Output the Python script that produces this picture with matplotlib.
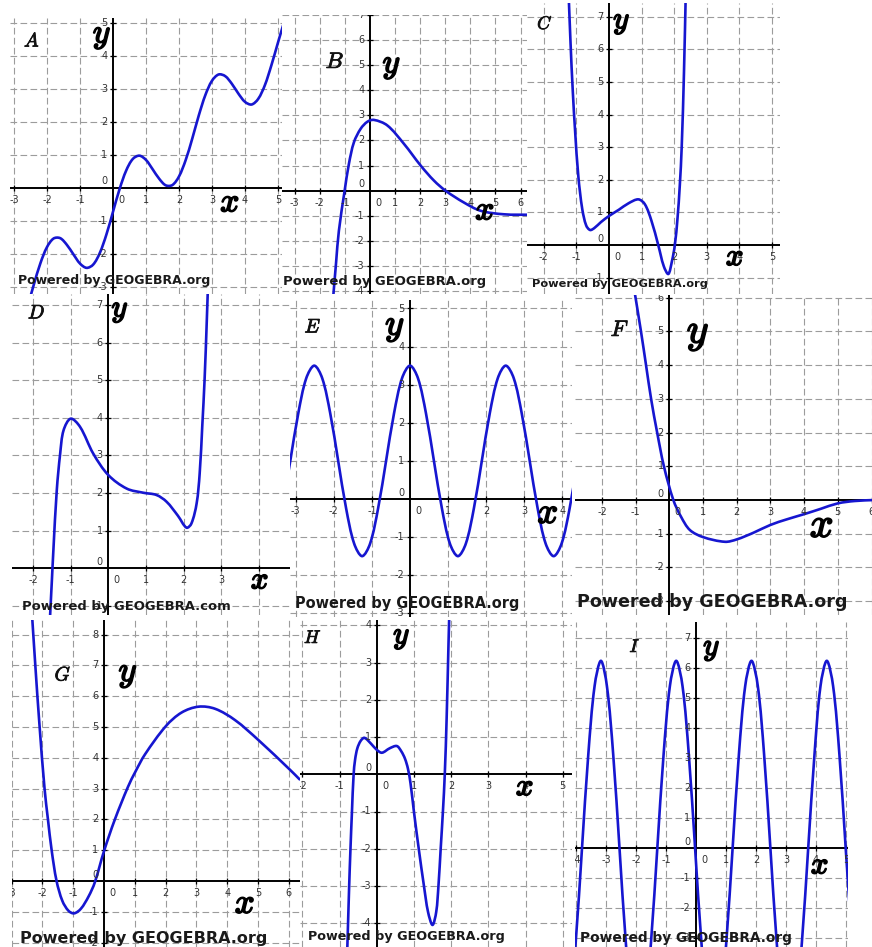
import numpy as np
import matplotlib
matplotlib.use('Agg')
import matplotlib.pyplot as plt
from matplotlib.path import Path
from matplotlib.patches import PathPatch
import matplotlib.patheffects as pe

plt.rcParams['mathtext.fontset'] = 'cm'

# ---------------- data ----------------
A_x = [-2.6, -2.4, -2.2, -2.0, -1.8, -1.6, -1.4, -1.2, -1.0, -0.8, -0.6, -0.4, -0.2, 0.0,
       0.2, 0.4, 0.6, 0.8, 1.0, 1.2, 1.4, 1.6, 1.8, 2.0, 2.2, 2.4, 2.6, 2.8, 3.0, 3.2,
       3.4, 3.6, 3.8, 4.0, 4.2, 4.4, 4.6, 4.8, 5.0, 5.2]
A_y = [-3.64, -2.93, -2.28, -1.79, -1.53, -1.52, -1.72, -2.01, -2.29, -2.42, -2.32, -1.97, -1.41, -0.72,
       -0.03, 0.53, 0.88, 0.98, 0.85, 0.57, 0.28, 0.08, 0.09, 0.35, 0.84, 1.49, 2.20, 2.82, 3.25, 3.44,
       3.39, 3.16, 2.86, 2.61, 2.53, 2.70, 3.11, 3.72, 4.41, 5.08]

B_x = [-1.52, -1.46, -1.35, -1.24, -1.01, -0.84, -0.64, -0.37, -0.1, 0.16, 0.69, 1.35, 2.02,
       2.55, 3.01, 3.74, 4.41, 5.34, 6.4]
B_y = [-4.9, -4.16, -2.85, -1.6, 0.0, 1.07, 1.93, 2.47, 2.75, 2.82, 2.6, 1.87, 1.0,
       0.4, 0.0, -0.47, -0.8, -0.94, -0.96]

C_x = [-1.25, -1.18, -1.11, -1.04, -0.94, -0.82, -0.70, -0.58, -0.45, -0.25, 0.0, 0.3, 0.6, 0.9,
       1.1, 1.3, 1.51, 1.68, 1.82, 1.93, 2.02, 2.10, 2.17, 2.23, 2.30, 2.36]
C_y = [8.0, 6.2, 4.7, 3.5, 2.1, 1.1, 0.6, 0.46, 0.52, 0.7, 0.89, 1.08, 1.28, 1.40,
       1.25, 0.75, 0.0, -0.65, -0.89, -0.5, 0.0, 0.8, 1.8, 3.0, 5.3, 8.0]

D_x = [-1.55, -1.50, -1.46, -1.37, -1.28, -1.19, -1.0, -0.75, -0.40, 0.0, 0.49, 0.93, 1.28,
       1.55, 1.85, 2.08, 2.21, 2.35, 2.43, 2.50, 2.56, 2.62, 2.66]
D_y = [-1.3, -0.31, 0.49, 2.08, 3.05, 3.67, 3.98, 3.76, 3.05, 2.48, 2.12, 2.01, 1.95,
       1.77, 1.4, 1.08, 1.19, 1.73, 2.52, 3.8, 5.0, 6.6, 7.8]

E_x = [-3.351, -3.142, -2.932, -2.723, -2.513, -2.304, -2.094, -1.885, -1.676, -1.466,
       -1.257, -1.047, -0.838, -0.628, -0.419, -0.209, 0.0, 0.209, 0.419, 0.628, 0.838,
       1.047, 1.257, 1.466, 1.676, 1.885, 2.094, 2.304, 2.513, 2.723, 2.932, 3.142,
       3.351, 3.560, 3.770, 3.979, 4.189, 4.398]
E_y = [-0.25, 1.0, 2.25, 3.17, 3.5, 3.17, 2.25, 1.0, -0.25, -1.17,
       -1.5, -1.17, -0.25, 1.0, 2.25, 3.17, 3.5, 3.17, 2.25, 1.0, -0.25,
       -1.17, -1.5, -1.17, -0.25, 1.0, 2.25, 3.17, 3.5, 3.17, 2.25, 1.0,
       -0.25, -1.17, -1.5, -1.17, -0.25, 1.0]

F_x = [-1.05, -0.84, -0.69, -0.54, -0.36, -0.16, 0.12, 0.35, 0.61, 1.0, 1.65, 2.0, 2.5,
       3.0, 3.5, 4.0, 4.5, 5.0, 5.5, 6.1]
F_y = [6.3, 5.0, 4.0, 3.0, 2.0, 1.0, 0.0, -0.5, -0.89, -1.1, -1.24, -1.17, -0.97,
       -0.74, -0.57, -0.42, -0.26, -0.1, -0.03, 0.0]

G_x = [-2.36, -2.23, -2.09, -1.93, -1.82, -1.70, -1.54, -1.35, -1.15, -0.97, -0.75, -0.5,
       -0.30, 0.0, 0.35, 0.78, 1.02, 1.33, 2.01, 2.52, 3.07, 3.61, 4.26, 5.02, 6.05, 6.35]
G_y = [9.0, 7.0, 5.0, 3.0, 2.0, 1.0, 0.0, -0.65, -0.97, -1.05, -0.9, -0.5,
       -0.05, 0.97, 1.99, 3.06, 3.55, 4.11, 5.03, 5.47, 5.66, 5.59, 5.22, 4.57, 3.60, 3.3]

H_x = [-0.80, -0.77, -0.74, -0.705, -0.665, -0.62, -0.58, -0.52, -0.43, -0.33, -0.15, 0.0,
       0.14, 0.35, 0.54, 0.66, 0.76, 0.84, 0.91, 1.0, 1.13, 1.27, 1.38, 1.50, 1.60, 1.66,
       1.72, 1.78, 1.83, 1.88, 1.93, 1.97]
H_y = [-5.0, -4.0, -3.0, -2.0, -1.0, 0.0, 0.4, 0.7, 0.9, 0.98, 0.82, 0.66,
       0.58, 0.70, 0.76, 0.62, 0.42, 0.15, -0.25, -1.0, -2.0, -3.0, -3.7, -4.05, -3.7, -3.0,
       -2.0, -1.0, 0.0, 1.5, 3.5, 5.0]

I_x = [-4.22, -4.01, -3.80, -3.59, -3.38, -3.17, -2.97, -2.76, -2.55, -2.34, -2.13, -1.92,
       -1.71, -1.50, -1.29, -1.08, -0.87, -0.66, -0.45, -0.24, -0.03, 0.18, 0.39, 0.59,
       0.80, 1.01, 1.22, 1.43, 1.64, 1.85, 2.06, 2.27, 2.48, 2.69, 2.90, 3.11, 3.32,
       3.53, 3.74, 3.95, 4.15, 4.36, 4.57, 4.78, 4.99, 5.20]
I_y = [-5.41, -3.13, 0.0, 3.13, 5.41, 6.25, 5.41, 3.13, 0.0, -3.13, -5.41, -6.25,
       -5.41, -3.13, 0.0, 3.13, 5.41, 6.25, 5.41, 3.13, 0.0, -3.13, -5.41, -6.25,
       -5.41, -3.13, 0.0, 3.13, 5.41, 6.25, 5.41, 3.13, 0.0, -3.13, -5.41, -6.25, -5.41,
       -3.13, 0.0, 3.13, 5.41, 6.25, 5.41, 3.13, 0.0, -3.13]

letters = ['A', 'B', 'C', 'D', 'E', 'F', 'G', 'H', 'I']
sites = ['org', 'org', 'org', 'com', 'org', 'org', 'org', 'org', 'org']
curves_x = [A_x, B_x, C_x, D_x, E_x, F_x, G_x, H_x, I_x]
curves_y = [A_y, B_y, C_y, D_y, E_y, F_y, G_y, H_y, I_y]

# ---------------- layout (pixels) ----------------
W, H = 872, 947
LAYOUT = [
    dict(box=(10, 18, 282, 294), org=(113, 188), u=33.0, let=(32, 41), yl=(102, 35), xl=(230, 202),
         pw=(18, 280, 193), big=24, ls=14),
    dict(box=(282, 15, 527, 294), org=(370, 190.7), u=25.1, let=(335, 62), yl=(391.7, 65), xl=(485, 210),
         pw=(283, 282, 202), big=24, ls=16),
    dict(box=(527, 3, 780, 294), org=(609, 245), u=32.6, let=(545, 24), yl=(621.7, 21.7), xl=(735, 256.7),
         pw=(532, 284, 175), big=22, ls=13),
    dict(box=(12, 294, 290, 615), org=(108.3, 568.3), u=37.6, let=(36.7, 313), yl=(120, 310), xl=(260, 580),
         pw=(22, 606.7, 208), big=22, ls=14),
    dict(box=(290, 300, 572, 617), org=(410, 499), u=38.1, let=(313, 327), yl=(395, 326.7), xl=(548, 513),
         pw=(295, 603, 223), big=26, ls=14),
    dict(box=(575, 295, 872, 615), org=(669.3, 500), u=33.7, let=(620, 330), yl=(698, 331.7), xl=(821.7, 525),
         pw=(577, 601.7, 270), big=30, ls=16),
    dict(box=(12, 620, 300, 947), org=(104, 881), u=30.8, let=(63, 675), yl=(128, 673), xl=(245, 903),
         pw=(20, 938, 247), big=25, ls=14),
    dict(box=(300, 620, 572, 947), org=(376.7, 774.3), u=37.2, let=(313, 638), yl=(401.7, 636.7), xl=(525, 786.7),
         pw=(308, 936.7, 197), big=22, ls=13),
    dict(box=(575, 622, 848, 947), org=(696, 848.3), u=30.0, let=(635, 647), yl=(711.7, 648.3), xl=(820, 865),
         pw=(580, 937.7, 212), big=22, ls=13),
]

BLUE = '#1616d0'
GRID = '#9c9c9c'
TICKC = '#333333'


def smooth_path(x, y):
    p = np.column_stack([x, y]).astype(float)
    d = np.hypot(*np.diff(p, axis=0).T)
    t = np.concatenate([[0.0], np.cumsum(d)])
    n = len(p)
    m = np.zeros_like(p)
    m[0] = (p[1] - p[0]) / (t[1] - t[0])
    m[-1] = (p[-1] - p[-2]) / (t[-1] - t[-2])
    for i in range(1, n - 1):
        m[i] = (p[i + 1] - p[i - 1]) / (t[i + 1] - t[i - 1])
    verts = [p[0]]
    codes = [Path.MOVETO]
    for i in range(n - 1):
        h = t[i + 1] - t[i]
        verts += [p[i] + m[i] * h / 3, p[i + 1] - m[i + 1] * h / 3, p[i + 1]]
        codes += [Path.CURVE4] * 3
    return Path(verts, codes)


def fp(px, py):
    return px / W, 1 - py / H


fig = plt.figure(figsize=(W / 100, H / 100), dpi=100)
fig.patch.set_facecolor('white')

powered = []
for L, name, site, cx, cy in zip(LAYOUT, letters, sites, curves_x, curves_y):
    l, t, r, b = L['box']
    ox, oy = L['org']
    u = L['u']
    ax = fig.add_axes([l / W, 1 - b / H, (r - l) / W, (b - t) / H])
    ax.set_xlim((l - ox) / u, (r - ox) / u)
    ax.set_ylim((oy - b) / u, (oy - t) / u)
    ax.axis('off')
    x0, x1 = ax.get_xlim()
    y0, y1 = ax.get_ylim()
    kx = list(range(int(np.ceil(x0 - 0.3)), int(np.floor(x1 + 0.3)) + 1))
    ky = list(range(int(np.ceil(y0 - 0.3)), int(np.floor(y1 + 0.3)) + 1))
    for k in kx:
        if k != 0:
            ax.axvline(k, color=GRID, lw=0.8, ls=(0, (6, 3)), zorder=1)
    for k in ky:
        if k != 0:
            ax.axhline(k, color=GRID, lw=0.8, ls=(0, (6, 3)), zorder=1)
    ax.axhline(0, color='black', lw=1.4, zorder=2)
    ax.axvline(0, color='black', lw=1.4, zorder=2)
    nx = [k for k in kx if k != 0]
    ny = [k for k in ky if k != 0]
    ax.plot(nx, [0] * len(nx), ls='none', marker='|', ms=4, mew=0.9, color='black', zorder=2)
    ax.plot([0] * len(ny), ny, ls='none', marker='_', ms=4, mew=0.9, color='black', zorder=2)
    dy = 12.0 / u
    dx = 5.5 / u
    for k in nx:
        ax.text(k, -dy, str(k), ha='center', va='center', fontsize=7, color=TICKC, clip_on=True, zorder=4)
    for k in ny:
        ax.text(-dx, k, str(k), ha='right', va='center', fontsize=7, color=TICKC, clip_on=True, zorder=4)
    ax.text(8.5 / u, -dy, '0', ha='center', va='center', fontsize=7, color=TICKC, clip_on=True, zorder=4)
    ax.text(-dx, 6.5 / u, '0', ha='right', va='center', fontsize=7, color=TICKC, clip_on=True, zorder=4)

    ax.add_patch(PathPatch(smooth_path(cx, cy), fill=False, ec=BLUE, lw=1.9, zorder=3,
                           capstyle='round', joinstyle='round'))

    fig.text(*fp(*L['let']), r'$' + name + '$', fontsize=L['ls'], ha='center', va='center',
             color='#111111', zorder=10,
             path_effects=[pe.withStroke(linewidth=0.6, foreground='#111111')])
    fig.text(*fp(*L['yl']), r'$y$', fontsize=L['big'], ha='center', va='center', color='black', zorder=10,
             path_effects=[pe.withStroke(linewidth=1.2, foreground='black')])
    fig.text(*fp(*L['xl']), r'$x$', fontsize=L['big'], ha='center', va='center', color='black', zorder=10,
             path_effects=[pe.withStroke(linewidth=1.2, foreground='black')])
    pl, pyc, pwid = L['pw']
    tx = fig.text(*fp(pl, pyc), 'Powered by GEOGEBRA.' + site, fontsize=9, fontweight='bold',
                  family='DejaVu Sans', ha='left', va='center', color='#1a1a1a', zorder=10)
    powered.append((tx, pwid))

fig.canvas.draw()
renderer = fig.canvas.get_renderer()
for tx, pwid in powered:
    w = tx.get_window_extent(renderer).width
    tx.set_fontsize(9 * pwid / w)

fig.savefig('out.png', dpi=100, facecolor='white')
